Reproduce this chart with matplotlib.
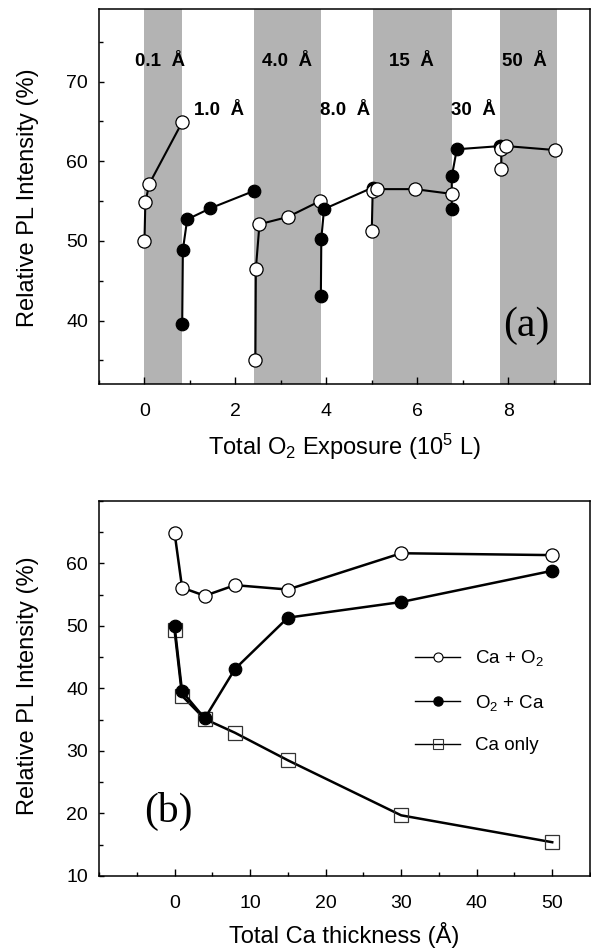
import matplotlib
matplotlib.use('agg')
import matplotlib.pyplot as plt
from matplotlib.lines import Line2D
from matplotlib.ticker import MultipleLocator

plt.rcParams['font.family'] = ['Liberation Sans', 'DejaVu Sans']
plt.rcParams['mathtext.default'] = 'regular'

######## data ########
# panel (a): PL intensity vs total O2 exposure, one run per Ca thickness
bands = [(0.0, 0.83), (2.42, 3.88), (5.03, 6.77), (7.83, 9.07)]
band_labels = ['0.1  Å', '1.0  Å', '4.0  Å', '8.0  Å', '15  Å', '30  Å', '50  Å']
label_x = [0.34, 1.64, 3.14, 4.42, 5.88, 7.23, 8.36]
label_y = [71.9, 65.8, 71.9, 65.8, 71.9, 65.8, 71.9]

x_01 = [0.0, 0.02, 0.11, 0.83]
y_01 = [50.0, 54.9, 57.2, 64.9]
x_10 = [0.83, 0.845, 0.94, 1.45, 2.42]
y_10 = [39.6, 48.9, 52.7, 54.1, 56.3]
x_40 = [2.44, 2.45, 2.53, 3.15, 3.86]
y_40 = [35.0, 46.5, 52.1, 53.0, 55.0]
x_80 = [3.88, 3.89, 3.95, 5.02]
y_80 = [43.1, 50.3, 54.0, 56.7]
x_15 = [5.0, 5.02, 5.12, 5.95, 6.76]
y_15 = [51.3, 56.3, 56.5, 56.5, 55.9]
x_30 = [6.76, 6.76, 6.87, 7.82]
y_30 = [54.0, 58.1, 61.5, 61.9]
x_50 = [7.85, 7.85, 7.96, 9.04]
y_50 = [59.0, 61.5, 61.9, 61.4]

a_xticks = [0, 2, 4, 6, 8]
a_yticks = [40, 50, 60, 70]

# panel (b): PL intensity vs total Ca thickness
thick = [0, 1, 4, 8, 15, 30, 50]
ca_o2 = [64.9, 56.1, 54.8, 56.5, 55.8, 61.6, 61.3]
o2_ca = [50.0, 39.5, 35.2, 43.1, 51.3, 53.8, 58.8]
ca_only = [49.3, 38.8, 35.1, 32.9, 28.5, 19.7, 15.4]
legend_names = ['Ca + O$_2$', 'O$_2$ + Ca', 'Ca only']

b_xticks = [0, 10, 20, 30, 40, 50]
b_yticks = [10, 20, 30, 40, 50, 60]

font_lab = {'family': 'Liberation Sans', 'size': 17}
font_tag = {'family': 'Liberation Serif', 'size': 30}

open_kw = dict(color='black', lw=1.5, marker='o', ms=9.5, mfc='white', mec='black', mew=0.9)
fill_kw = dict(color='black', lw=1.5, marker='o', ms=9.0, mfc='black', mec='black', mew=0.9)

fig = plt.figure(figsize=(5.91, 9.52), dpi=100)

######## panel (a) ########
ax = fig.add_axes([99/591, 1-384/952, 491/591, 375/952])
for b0, b1 in bands:
    ax.axvspan(b0, b1, color='#b3b3b3', lw=0, zorder=0)

ax.plot(x_01, y_01, zorder=3, **open_kw)
ax.plot(x_10, y_10, zorder=3, **fill_kw)
ax.plot(x_40, y_40, zorder=3, **open_kw)
ax.plot(x_80, y_80, zorder=4, **fill_kw)
ax.plot(x_30, y_30, zorder=4, **fill_kw)
ax.plot(x_15, y_15, zorder=5, **open_kw)
ax.plot(x_50, y_50, zorder=5, **open_kw)

for t, tx, ty in zip(band_labels, label_x, label_y):
    ax.text(tx, ty, t, ha='center', va='baseline', fontsize=13.5, fontweight='bold', zorder=6)
ax.text(8.4, 39.3, '(a)', ha='center', va='center', fontdict=font_tag)

ax.set_xlim(-1.0, 9.8)
ax.set_ylim(32.05, 79.1)
ax.set_xticks(a_xticks)
ax.set_yticks(a_yticks)
ax.xaxis.set_minor_locator(MultipleLocator(1))
ax.yaxis.set_minor_locator(MultipleLocator(5))
ax.set_xlabel('Total O$_2$ Exposure (10$^5$ L)', fontdict=font_lab)
ax.set_ylabel('Relative PL Intensity (%)', fontdict=font_lab)
ax.xaxis.set_label_coords(0.5, -0.128)
ax.yaxis.set_label_coords(-0.122, 0.496)

######## panel (b) ########
bx = fig.add_axes([99/591, 1-876/952, 491/591, 375.3/952])
bx.plot(thick, ca_only, color='black', lw=1.8, marker='s', ms=9.5, mfc='none',
        mec='#333333', mew=0.9, zorder=3)
bx.plot(thick, o2_ca, zorder=4, **dict(fill_kw, lw=1.8))
bx.plot(thick, ca_o2, zorder=5, **dict(open_kw, lw=1.8))
bx.text(-0.75, 20.3, '(b)', ha='center', va='center', fontdict=font_tag)

handles = [
    Line2D([], [], color='black', lw=1.0, marker='o', ms=6.5, mfc='white', mec='black', mew=0.8),
    Line2D([], [], color='black', lw=1.0, marker='o', ms=6.5, mfc='black', mec='black'),
    Line2D([], [], color='black', lw=1.0, marker='s', ms=6.5, mfc='none', mec='#333333', mew=0.8),
]
bx.legend(handles, legend_names, loc='upper left',
          bbox_to_anchor=(0.644, 0.607), frameon=False, fontsize=13.5, borderpad=0,
          borderaxespad=0, handlelength=2.4, handletextpad=0.8, labelspacing=1.3)

bx.set_xlim(-10, 55)
bx.set_ylim(10, 70)
bx.set_xticks(b_xticks)
bx.set_yticks(b_yticks)
bx.xaxis.set_minor_locator(MultipleLocator(5))
bx.yaxis.set_minor_locator(MultipleLocator(5))
bx.set_xlabel('Total Ca thickness (Å)', fontdict=font_lab)
bx.set_ylabel('Relative PL Intensity (%)', fontdict=font_lab)
bx.xaxis.set_label_coords(0.5, -0.123)
bx.yaxis.set_label_coords(-0.122, 0.506)

#### axis and tick styling, same for both panels ####
for a in (ax, bx):
    for s in a.spines.values():
        s.set_linewidth(1.1)
    a.tick_params(axis='x', which='major', direction='in', length=5, width=1, pad=14, labelsize=14)
    a.tick_params(axis='x', which='minor', direction='in', length=3, width=1)
    a.tick_params(axis='y', which='major', direction='in', length=3.6, width=1, pad=8, labelsize=14)
    a.tick_params(axis='y', which='minor', direction='in', length=3, width=1)

fig.savefig('out.png', format='png', dpi=100)
plt.close('all')
